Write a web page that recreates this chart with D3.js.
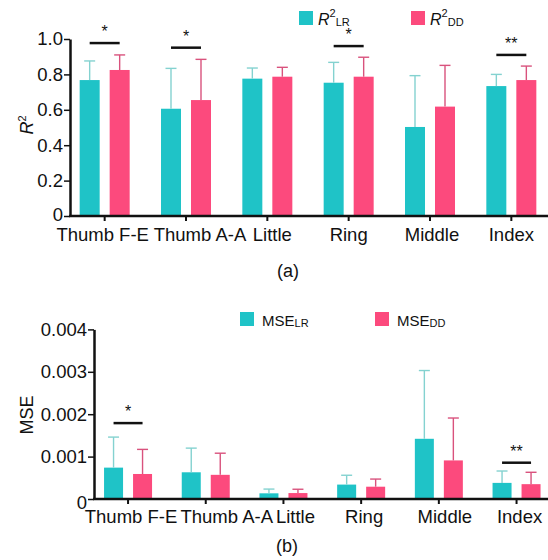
<!DOCTYPE html>
<html>
<head>
<meta charset="utf-8">
<script src="https://cdn.jsdelivr.net/npm/d3@7"></script>
<style>
  body { margin: 0; background: #fff; }
  text { font-family: "Liberation Sans", Arial, sans-serif; fill: #111; }
</style>
</head>
<body>
<svg width="548" height="560"></svg>
<script>
// categories shared by both panels
var categories = ["Thumb F-E", "Thumb A-A", "Little", "Ring", "Middle", "Index"];

// panel (a): R^2
var r2LR = [0.768, 0.606, 0.776, 0.753, 0.503, 0.734];
var r2LRsd = [0.108, 0.228, 0.060, 0.115, 0.290, 0.066];
var r2DD = [0.825, 0.655, 0.787, 0.787, 0.618, 0.768];
var r2DDsd = [0.085, 0.230, 0.053, 0.110, 0.233, 0.079];
var r2Sig = ["*", "*", "", "*", "", "**"];
var r2SigLevel = [0.977, 0.951, null, 0.960, null, 0.910];
var r2Ticks = [0, 0.2, 0.4, 0.6, 0.8, 1.0];
var r2TickLabels = ["0", "0.2", "0.4", "0.6", "0.8", "1.0"];

// panel (b): MSE
var mseLR = [0.00074, 0.00063, 0.000134, 0.00034, 0.00142, 0.00038];
var mseLRsd = [0.00072, 0.00057, 0.00010, 0.00022, 0.00161, 0.00028];
var mseDD = [0.00059, 0.00057, 0.00014, 0.00029, 0.00091, 0.00035];
var mseDDsd = [0.00058, 0.00051, 0.00009, 0.00018, 0.00100, 0.00028];
var mseSig = ["*", "", "", "", "", "**"];
var mseSigLevel = [0.00179, null, null, null, null, 0.000856];
var mseTicks = [0, 0.001, 0.002, 0.003, 0.004];
var mseTickLabels = ["0", "0.001", "0.002", "0.003", "0.004"];

var series = ["LR", "DD"];
var barColor = { LR: "#1fc3c7", DD: "#fc4a7d" };
var errColor = { LR: "#84d2d0", DD: "#d9527d" };

var svg = d3.select("svg");

function drawPanel(p) {
    var g = svg.append("g");

    var x = d3.scaleBand().domain(categories).range(p.xRange).paddingInner(0);
    var x1 = d3.scaleBand().domain(series).range(p.innerRange).paddingInner(p.innerPad);
    var y = d3.scaleLinear().domain([0, p.yMax]).range(p.yRange);

    var rows = categories.map(function (c, i) {
        return { cat: c, i: i, LR: p.lr[i], LRsd: p.lrSd[i], DD: p.dd[i], DDsd: p.ddSd[i] };
    });

    // bars + upper error whiskers
    series.forEach(function (s) {
        g.selectAll(".bar" + s).data(rows).enter().append("rect")
            .attr("x", function (d) { return x(d.cat) + x.bandwidth() / 2 + x1(s); })
            .attr("y", function (d) { return y(d[s]); })
            .attr("width", x1.bandwidth())
            .attr("height", function (d) { return y(0) - y(d[s]); })
            .attr("fill", barColor[s]);

        var cx = function (d) { return x(d.cat) + x.bandwidth() / 2 + x1(s) + x1.bandwidth() / 2; };
        g.selectAll(".err" + s).data(rows).enter().append("line")
            .attr("x1", cx).attr("x2", cx)
            .attr("y1", function (d) { return y(d[s]); })
            .attr("y2", function (d) { return y(d[s] + d[s + "sd"]); })
            .attr("stroke", errColor[s]).attr("stroke-width", 1.4);
        g.selectAll(".cap" + s).data(rows).enter().append("line")
            .attr("x1", function (d) { return cx(d) - 5.5; })
            .attr("x2", function (d) { return cx(d) + 5.5; })
            .attr("y1", function (d) { return y(d[s] + d[s + "sd"]); })
            .attr("y2", function (d) { return y(d[s] + d[s + "sd"]); })
            .attr("stroke", errColor[s]).attr("stroke-width", 1.4);
    });

    // significance lines + stars
    var sigRows = rows.filter(function (d) { return p.sig[d.i] !== ""; });
    var lx = function (d, s) { return x(d.cat) + x.bandwidth() / 2 + x1(s) + x1.bandwidth() / 2; };
    g.selectAll(".sig").data(sigRows).enter().append("line")
        .attr("x1", function (d) { return lx(d, "LR"); })
        .attr("x2", function (d) { return lx(d, "DD"); })
        .attr("y1", function (d) { return y(p.sigLevel[d.i]); })
        .attr("y2", function (d) { return y(p.sigLevel[d.i]); })
        .attr("stroke", "#111").attr("stroke-width", 2.5);
    g.selectAll(".star").data(sigRows).enter().append("text")
        .attr("x", function (d) { return (lx(d, "LR") + lx(d, "DD")) / 2; })
        .attr("y", function (d) { return y(p.sigLevel[d.i]) - 6; })
        .attr("text-anchor", "middle")
        .style("font-size", "16px")
        .text(function (d) { return p.sig[d.i]; });

    // y axis
    var yAxis = d3.axisLeft(y).tickValues(p.ticks)
        .tickFormat(function (d, i) { return p.tickLabels[i]; })
        .tickSize(6).tickSizeOuter(0).tickPadding(1);
    var ya = g.append("g").attr("transform", "translate(" + p.axisX + ",0)").call(yAxis);
    ya.select(".domain").attr("stroke", "#111").attr("stroke-width", 2.5);
    ya.selectAll(".tick line").attr("stroke", "#111").attr("stroke-width", 1.5);
    ya.selectAll(".tick text").style("font-size", "18.5px").attr("fill", "#111")
        .attr("y", function (d) { return d === 0 ? p.zeroDrop : 0; });

    // x axis
    var xAxis = d3.axisBottom(x).tickSize(5).tickSizeOuter(0).tickPadding(p.xPad);
    var xa = g.append("g").attr("transform", "translate(0," + y(0) + ")").call(xAxis);
    xa.select(".domain").remove();
    xa.append("line").attr("x1", p.axisX - 1).attr("x2", 548).attr("y1", 0).attr("y2", 0)
        .attr("stroke", "#111").attr("stroke-width", 2.5);
    xa.selectAll(".tick line").attr("stroke", "#111").attr("stroke-width", 2);
    xa.selectAll(".tick text").style("font-size", "18.5px").attr("fill", "#111")
        .attr("dx", function (d, i) { return p.nudge[i]; });

    // y title
    var yt = g.append("text")
        .attr("transform", "translate(" + p.yTitleX + "," + p.yTitleY + ") rotate(-90)")
        .attr("text-anchor", "middle")
        .style("font-size", "18px");
    if (p.italicTitle) {
        yt.append("tspan").style("font-style", "italic").text("R");
        yt.append("tspan").attr("dy", -7).style("font-size", "11px").text("2");
    } else {
        yt.text(p.yTitle);
    }

    // legend
    series.forEach(function (s, i) {
        var lx0 = p.legendX[i];
        g.append("rect").attr("x", lx0).attr("y", p.legendY)
            .attr("width", 14).attr("height", 14).attr("fill", barColor[s]);
        var t = g.append("text").attr("x", lx0 + p.legendGap).attr("y", p.legendY + 14)
            .style("font-size", p.legendFont + "px");
        if (p.italicTitle) {
            t.append("tspan").style("font-style", "italic").text("R");
            t.append("tspan").attr("dy", -8).style("font-size", "11px").text("2");
            t.append("tspan").attr("dy", 9).attr("dx", 0).style("font-size", "11px").text(s);
        } else {
            t.append("tspan").text(p.yTitle);
            t.append("tspan").attr("dy", 1).style("font-size", "11px").text(s);
        }
    });

    // panel caption
    g.append("text").attr("x", p.captionX).attr("y", p.captionY)
        .attr("text-anchor", "middle").style("font-size", "18px").text(p.caption);
}

drawPanel({
    lr: r2LR, lrSd: r2LRsd, dd: r2DD, ddSd: r2DDsd,
    sig: r2Sig, sigLevel: r2SigLevel, ticks: r2Ticks, tickLabels: r2TickLabels,
    yMax: 1.0, yRange: [216, 39], xRange: [64, 552], axisX: 70,
    innerRange: [-25, 25], innerPad: 1 / 3, xPad: 7, zeroDrop: -1,
    nudge: [-2, 14, 5, 0, 2, 0],
    italicTitle: true, yTitle: "R", yTitleX: 33, yTitleY: 125,
    legendX: [299, 411], legendY: 11, legendGap: 19, legendFont: 16,
    caption: "(a)", captionX: 288, captionY: 277
});

drawPanel({
    lr: mseLR, lrSd: mseLRsd, dd: mseDD, ddSd: mseDDsd,
    sig: mseSig, sigLevel: mseSigLevel, ticks: mseTicks, tickLabels: mseTickLabels,
    yMax: 0.004, yRange: [499, 329.4], xRange: [89.2, 555.4], axisX: 94,
    innerRange: [-24, 24], innerPad: 10 / 29, xPad: 6, zeroDrop: 4,
    nudge: [3, 21, 12, 3, 6, 3],
    italicTitle: false, yTitle: "MSE", yTitleX: 33, yTitleY: 415,
    legendX: [240, 375], legendY: 312, legendGap: 22, legendFont: 15,
    caption: "(b)", captionX: 287, captionY: 552
});
</script>
</body>
</html>
